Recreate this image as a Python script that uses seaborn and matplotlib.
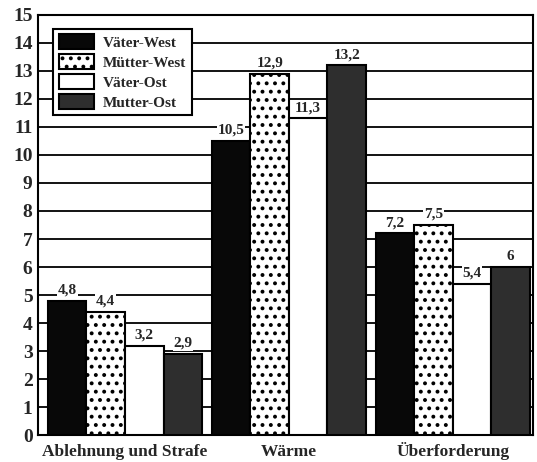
import matplotlib
matplotlib.use("Agg")
import matplotlib.pyplot as plt
import pandas as pd
import seaborn as sns

categories = ["Ablehnung und Strafe", "Wärme", "Überforderung"]
groups = ["Väter-West", "Mütter-West", "Väter-Ost", "Mutter-Ost"]
vaeter_west = [4.8, 10.5, 7.2]
muetter_west = [4.4, 12.9, 7.5]
vaeter_ost = [3.2, 11.3, 5.4]
mutter_ost = [2.9, 13.2, 6.0]

colors = ["#080808", "#ffffff", "#ffffff", "#2e2e2e"]
hatches = [None, "..", None, None]

sns.set_theme(style="white")
plt.rcParams["font.family"] = ["Liberation Serif", "DejaVu Serif"]
plt.rcParams["font.weight"] = "bold"
plt.rcParams["hatch.linewidth"] = 1.6

rows = []
for g, vals in zip(groups, [vaeter_west, muetter_west, vaeter_ost, mutter_ost]):
    for c, v in zip(categories, vals):
        rows.append({"Kategorie": c, "Gruppe": g, "Wert": v})
df = pd.DataFrame(rows)

fig, ax = plt.subplots(figsize=(5.37, 4.62), dpi=100)
fig.subplots_adjust(left=0.071, right=0.993, top=0.968, bottom=0.058)

sns.barplot(
    data=df, x="Kategorie", y="Wert", hue="Gruppe", hue_order=groups,
    order=categories, palette=colors, width=0.94, gap=0,
    edgecolor="black", linewidth=1.5, ax=ax, zorder=3,
)

# fill, hatch and value labels per group
for container, col, h in zip(ax.containers, colors, hatches):
    for bar in container:
        bar.set_facecolor(col)
        if h:
            bar.set_hatch(h)
    labels = []
    for bar in container:
        s = f"{bar.get_height():.1f}".replace(".", ",")
        if s.endswith(",0"):
            s = s[:-2]
        labels.append(s)
    texts = ax.bar_label(container, labels=labels, padding=3, fontsize=11,
                         fontweight="bold", zorder=4)
    for t in texts:
        t.set_bbox(dict(facecolor="white", edgecolor="none", pad=0.5))

ax.set_ylim(0, 15)
ax.set_xlim(-0.53, 2.49)
ax.set_yticks(range(0, 16))
ax.yaxis.grid(True, color="black", linewidth=1.3, zorder=0)
ax.set_axisbelow(True)
ax.set_xlabel("")
ax.set_ylabel("")
ax.tick_params(axis="y", labelsize=14, length=0, pad=4)
ax.tick_params(axis="x", labelsize=12.5, length=0, pad=15)
for t in ax.get_xticklabels():
    t.set_verticalalignment("baseline")
for sp in ax.spines.values():
    sp.set_color("black")
    sp.set_linewidth(1.5)

leg = ax.legend(loc="upper left", bbox_to_anchor=(0.015, 0.985), fontsize=11,
                frameon=True, fancybox=False, framealpha=1,
                edgecolor="black", handlelength=2.3, handleheight=1.1,
                borderpad=0.35, labelspacing=0.3, handletextpad=0.6)
leg.get_frame().set_linewidth(1.5)
for handle, col, h in zip(leg.legend_handles, colors, hatches):
    handle.set_facecolor(col)
    handle.set_edgecolor("black")
    if h:
        handle.set_hatch(h)
for t in leg.get_texts():
    t.set_fontweight("bold")

plt.savefig("out.png", dpi=100)
plt.close()
